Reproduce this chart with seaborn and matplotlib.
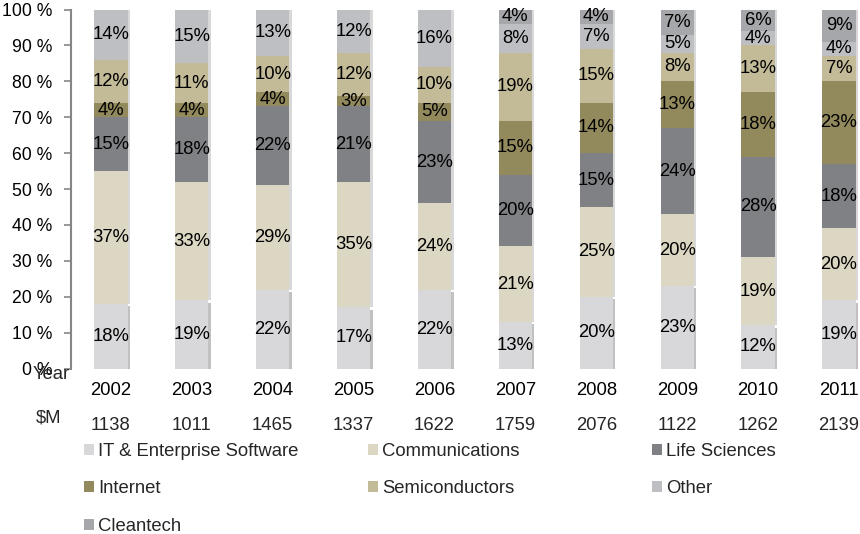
import matplotlib
matplotlib.use("Agg")
import matplotlib.pyplot as plt
import matplotlib.patheffects as pe
from matplotlib.patches import Patch
import numpy as np
import seaborn as sns

# ---------------- data ----------------
years = ["2002", "2003", "2004", "2005", "2006", "2007", "2008", "2009", "2010", "2011"]
totals_musd = [1138, 1011, 1465, 1337, 1622, 1759, 2076, 1122, 1262, 2139]

sectors = ["IT & Enterprise Software", "Communications", "Life Sciences",
           "Internet", "Semiconductors", "Other", "Cleantech"]
it_software    = [18, 19, 22, 17, 22, 13, 20, 23, 12, 19]
communications = [37, 33, 29, 35, 24, 21, 25, 20, 19, 20]
life_sciences  = [15, 18, 22, 21, 23, 20, 15, 24, 28, 18]
internet       = [4, 4, 4, 3, 5, 15, 14, 13, 18, 23]
semiconductors = [12, 11, 10, 12, 10, 19, 15, 8, 13, 7]
other          = [14, 15, 13, 12, 16, 8, 7, 5, 4, 4]
cleantech      = [0, 0, 0, 0, 0, 4, 4, 7, 6, 9]
series = [it_software, communications, life_sciences, internet,
          semiconductors, other, cleantech]

colors = ["#D8D8DA", "#DCD7C3", "#808184", "#928A5D", "#C3BB98", "#BEBFC3", "#A6A7AA"]

y_ticks = list(range(0, 101, 10))
y_tick_labels = [f"{v} %" for v in y_ticks]

# ---------------- style ----------------
sns.set_theme(style="white")
plt.rcParams["font.family"] = ["Liberation Sans", "DejaVu Sans"]
FS = 13.3

W, H = 860, 534
fig = plt.figure(figsize=(W / 100, H / 100), dpi=100)
ax_left, ax_right, ax_top, ax_bot = 71, 860, 9.5, 368.5
ax = fig.add_axes([ax_left / W, (H - ax_bot) / H, (ax_right - ax_left) / W, (ax_bot - ax_top) / H])

shadow_side = [pe.SimplePatchShadow(offset=(1.8, 0), shadow_rgbFace=(0.5, 0.5, 0.5), alpha=0.3),
               pe.Normal()]
shadow_base = [pe.SimplePatchShadow(offset=(1.8, -1.8), shadow_rgbFace=(0.4, 0.4, 0.4), alpha=0.4),
               pe.Normal()]

bottom = np.zeros(len(years))
for k, (name, vals, col) in enumerate(zip(sectors, series, colors)):
    vals = np.array(vals, dtype=float)
    sns.barplot(x=years, y=vals, order=years, color=col, saturation=1, width=0.41,
                errorbar=None, bottom=bottom.copy(), linewidth=0, ax=ax,
                path_effects=shadow_base if k == 0 else shadow_side)
    for i, (v, b) in enumerate(zip(vals, bottom)):
        if v > 0:
            ax.text(i, b + v / 2, f"{int(v)}%", ha="center", va="center",
                    fontsize=FS, color="black")
    bottom += vals

ax.set_ylim(0, 100)
ax.set_xlim(-0.494, 9.26)
ax.set_xlabel("")
ax.set_ylabel("")
ax.set_yticks(y_ticks)
ax.set_yticklabels(y_tick_labels)
ax.tick_params(axis="y", left=True, length=5, width=1.2, color="#868686",
               labelsize=12.7, pad=8.5, labelcolor="black")
ax.tick_params(axis="x", bottom=False, length=0, labelsize=FS, pad=9.4, labelcolor="black")
for s in ["top", "right", "bottom"]:
    ax.spines[s].set_visible(False)
ax.spines["left"].set_color("#868686")
ax.spines["left"].set_linewidth(1.5)
ax.grid(False)

# table rows below the axis
xtr = ax.get_xaxis_transform()
ax.text(-0.001, (ax_bot - 379) / (ax_bot - ax_top), "Year", transform=ax.transAxes,
        ha="right", va="baseline", fontsize=FS, clip_on=False)
ax.text((48.5 - ax_left) / (ax_right - ax_left), (ax_bot - 422) / (ax_bot - ax_top), "$M",
        transform=ax.transAxes, ha="center", va="baseline", fontsize=FS, clip_on=False)
for i, t in enumerate(totals_musd):
    ax.text(i, (ax_bot - 430) / (ax_bot - ax_top), str(t), transform=xtr,
            ha="center", va="baseline", fontsize=FS, clip_on=False)

# legend: three columns, placed like the reference
handles = [Patch(facecolor=c, edgecolor="none", label=s) for s, c in zip(sectors, colors)]
col_members = [[0, 3, 6], [1, 4], [2, 5]]
col_x = [84, 368, 652]
for members, x in zip(col_members, col_x):
    fig.legend([handles[k] for k in members], [sectors[k] for k in members],
               loc="upper left", bbox_to_anchor=(x / W, 1 - 443 / H),
               bbox_transform=fig.transFigure, frameon=False, borderpad=0,
               borderaxespad=0, handlelength=0.54, handleheight=0.54,
               handletextpad=0.22, labelspacing=1.1, fontsize=FS)

fig.savefig("out.png", dpi=100)
